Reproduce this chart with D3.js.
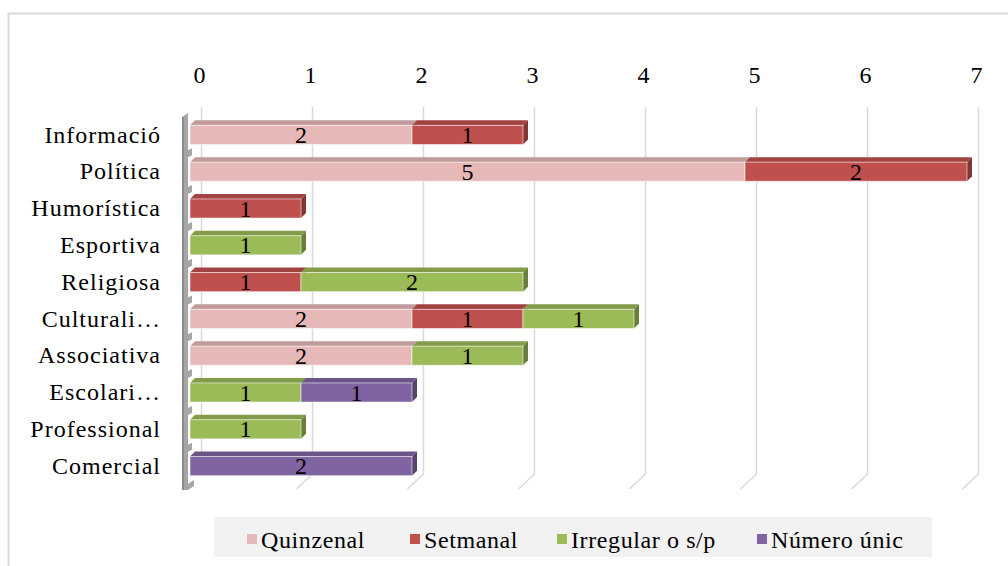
<!DOCTYPE html>
<html>
<head>
<meta charset="utf-8">
<script src="https://d3js.org/d3.v7.min.js"></script>
<style>
  body { margin: 0; background: #fff; }
  svg text { font-family: "Liberation Serif", "Times New Roman", serif; fill: #000; }
</style>
</head>
<body>
<svg width="1008" height="566"></svg>
<script>
// data
const categories = ["Informació", "Política", "Humorística", "Esportiva", "Religiosa",
  "Culturali…", "Associativa", "Escolari…", "Professional", "Comercial"];
const seriesNames = ["Quinzenal", "Setmanal", "Irregular o s/p", "Número únic"];
const quinzenal = [2, 5, 0, 0, 0, 2, 2, 0, 0, 0];
const setmanal  = [1, 2, 1, 0, 1, 1, 0, 0, 0, 0];
const irregular = [0, 0, 0, 1, 2, 1, 1, 1, 1, 0];
const numeroUnic = [0, 0, 0, 0, 0, 0, 0, 1, 0, 2];
const tickValues = [0, 1, 2, 3, 4, 5, 6, 7];

const frontColors = ["#e6b9b8", "#c0504d", "#9bbb59", "#8064a2"];

const rows = categories.map((c, i) => ({
  cat: c,
  "Quinzenal": quinzenal[i],
  "Setmanal": setmanal[i],
  "Irregular o s/p": irregular[i],
  "Número únic": numeroUnic[i]
}));

const stacked = d3.stack().keys(seriesNames)(rows);

const svg = d3.select("svg");

// outer chart border
svg.append("rect")
  .attr("x", 8.5).attr("y", 13.5)
  .attr("width", 1010).attr("height", 570)
  .attr("fill", "none").attr("stroke", "#d9d9d9").attr("stroke-width", 2);

// back wall (gridlines) scale and front (bars) scale
const xBack = d3.scaleLinear().domain([0, 7]).range([201, 978]);
const x = d3.scaleLinear().domain([0, 7]).range([190, 967]);
const y = d3.scaleBand().domain(categories).range([116.5, 484.5])
  .paddingInner(0.48).paddingOuter(0.24);

const depthX = 5, depthY = 5;

// gridlines with floor slant
const grid = svg.append("g");
tickValues.forEach(v => {
  const gx = Math.round(xBack(v)) + 0.5;
  grid.append("path")
    .attr("d", v === 0
      ? `M${gx},107 L${gx},474`
      : `M${gx},107 L${gx},474 L${gx - 16},489`)
    .attr("fill", "none")
    .attr("stroke", "#d9d9d9")
    .attr("stroke-width", 1.5);
});

// top axis labels
const axis = svg.append("g")
  .attr("transform", "translate(0,83)")
  .call(d3.axisTop(xBack).tickValues(tickValues).tickFormat(d3.format("d"))
    .tickSize(0).tickPadding(0));
axis.select(".domain").remove();
axis.selectAll("text")
  .attr("x", -2)
  .attr("dy", 0)
  .style("font-size", "24px")
  .style("font-family", "Liberation Serif, serif");

// left wall
const wall = svg.append("g");
wall.append("path")
  .attr("d", "M182,117 L188,113 L188,490 L182,490 Z")
  .attr("fill", "#a6a6a6");
wall.append("rect")
  .attr("x", 182).attr("y", 117).attr("width", 2).attr("height", 373)
  .attr("fill", "#8c8c8c");
categories.forEach((c, i) => {
  const yy = y(c) - y.step() * y.paddingInner() / 2;
  if (i > 0) {
    wall.append("path")
      .attr("d", `M188,${yy - 3} L192,${yy - 5} L192,${yy + 2} L188,${yy + 4} Z`)
      .attr("fill", "#a6a6a6");
  }
});
wall.append("path")
  .attr("d", "M188,484 L194,480 L194,486 L188,490 Z")
  .attr("fill", "#a6a6a6");

// bars
const bars = svg.append("g");
stacked.forEach((layer, si) => {
  const base = d3.color(frontColors[si]);
  const topCol = base.darker(0.5);
  const sideCol = base.darker(1.1);
  layer.forEach((d, i) => {
    if (d[1] - d[0] <= 0) return;
    const x0 = x(d[0]), x1 = x(d[1]);
    const yt = y(categories[i]), yb = yt + y.bandwidth();
    const g = bars.append("g");
    g.append("path")
      .attr("d", `M${x1},${yt} L${x1 + depthX},${yt - depthY} L${x1 + depthX},${yb - depthY} L${x1},${yb} Z`)
      .attr("fill", sideCol);
    g.append("path")
      .attr("d", `M${x0},${yt} L${x1},${yt} L${x1 + depthX},${yt - depthY} L${x0 + depthX},${yt - depthY} Z`)
      .attr("fill", topCol);
    g.append("rect")
      .attr("x", x0).attr("y", yt)
      .attr("width", x1 - x0).attr("height", y.bandwidth())
      .attr("fill", frontColors[si])
      .attr("stroke", "rgba(255,255,255,0.55)")
      .attr("stroke-width", 1);
    g.append("text")
      .attr("x", (x0 + x1) / 2)
      .attr("y", yt + y.bandwidth() / 2)
      .attr("dy", "0.34em")
      .attr("text-anchor", "middle")
      .style("font-size", "24px")
      .text(d[1] - d[0]);
  });
});

// category labels
svg.append("g").selectAll("text")
  .data(categories)
  .enter().append("text")
  .attr("x", 161)
  .attr("y", d => y(d) + y.bandwidth() / 2)
  .attr("dy", "0.32em")
  .attr("text-anchor", "end")
  .style("font-size", "24px")
  .style("letter-spacing", "1px")
  .text(d => d);

// legend
const legend = svg.append("g");
legend.append("rect")
  .attr("x", 214).attr("y", 517).attr("width", 718).attr("height", 40)
  .attr("fill", "#f2f2f2");
const legendX = [247, 410, 557, 757];
seriesNames.forEach((name, i) => {
  legend.append("rect")
    .attr("x", legendX[i]).attr("y", 534).attr("width", 10).attr("height", 10)
    .attr("fill", frontColors[i]);
  legend.append("text")
    .attr("x", legendX[i] + 14).attr("y", 548)
    .style("font-size", "24px")
    .style("letter-spacing", "0.6px")
    .text(name);
});
</script>
</body>
</html>
